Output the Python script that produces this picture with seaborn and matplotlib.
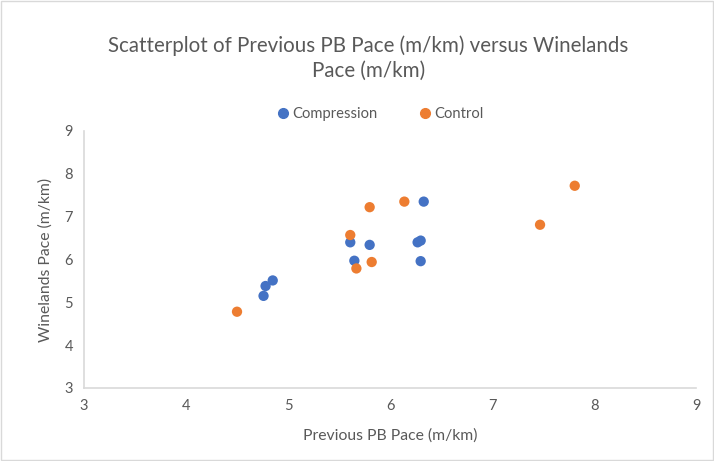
import matplotlib
matplotlib.use("Agg")
import matplotlib.pyplot as plt
import seaborn as sns
import pandas as pd
from matplotlib.lines import Line2D

comp_x = [4.76, 4.78, 4.85, 5.61, 5.65, 5.80, 6.27, 6.30, 6.30, 6.33]
comp_y = [5.15, 5.38, 5.51, 6.40, 5.97, 6.34, 6.40, 6.44, 5.96, 7.35]
ctrl_x = [4.50, 5.61, 5.67, 5.80, 5.82, 6.14, 7.47, 7.81]
ctrl_y = [4.78, 6.57, 5.79, 7.22, 5.94, 7.35, 6.81, 7.72]
groups = ["Compression", "Control"]
ticks = [3, 4, 5, 6, 7, 8, 9]

df = pd.DataFrame({
    "x": comp_x + ctrl_x,
    "y": comp_y + ctrl_y,
    "group": [groups[0]] * len(comp_x) + [groups[1]] * len(ctrl_x),
})

sns.set_style("white")
plt.rcParams["font.family"] = ["Lato", "DejaVu Sans"]
grey = "#595959"

fig = plt.figure(figsize=(7.14, 4.61), dpi=100)
ax = fig.add_axes([0.1176, 0.1584, 0.8574, 0.5576])
sns.scatterplot(data=df, x="x", y="y", hue="group", hue_order=groups,
                palette={"Compression": "#4472C4", "Control": "#ED7D31"},
                s=55, edgecolor="none", ax=ax, legend=False)
ax.set_xlim(3, 9)
ax.set_ylim(3, 9)
ax.set_xticks(ticks)
ax.set_yticks(ticks)
ax.tick_params(colors=grey, labelsize=10.5, length=0, pad=8)
for s in ["top", "right"]:
    ax.spines[s].set_visible(False)
for s in ["left", "bottom"]:
    ax.spines[s].set_color("#d9d9d9")
    ax.spines[s].set_linewidth(1.2)
ax.set_xlabel("Previous PB Pace (m/km)", color=grey, fontsize=11.3, labelpad=11)
ax.set_ylabel("Winelands Pace (m/km)", color=grey, fontsize=11.3, labelpad=8)

fig.text(0.516, 0.874, "Scatterplot of Previous PB Pace (m/km) versus Winelands\nPace (m/km)",
         ha="center", va="center", fontsize=14.8, color=grey, linespacing=1.3)

handles = [Line2D([], [], marker="o", ls="", color=c, markersize=7)
           for c in ["#4472C4", "#ED7D31"]]
fig.legend(handles, groups, loc="center", bbox_to_anchor=(0.533, 0.752), ncol=2,
           frameon=False, fontsize=10.6, labelcolor=grey, handlelength=0.8,
           handletextpad=0.25, columnspacing=2.8)

fig.patches.append(plt.Rectangle((0.002, 0.002), 0.996, 0.996, transform=fig.transFigure,
                                 fill=False, edgecolor="#d9d9d9", lw=1))
fig.savefig("out.png", dpi=100)
